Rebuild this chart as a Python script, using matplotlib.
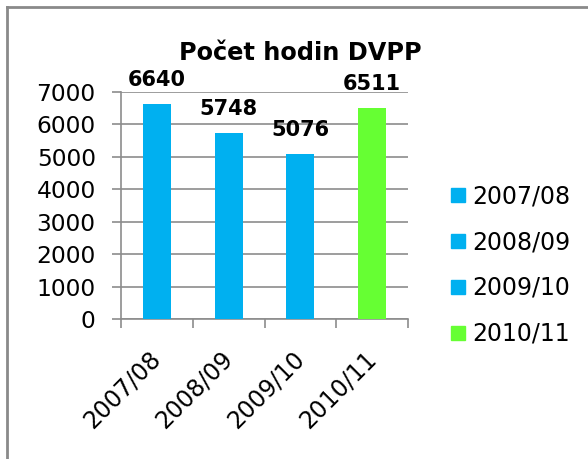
import matplotlib
matplotlib.use("Agg")
import matplotlib.pyplot as plt
from matplotlib.lines import Line2D
from matplotlib.transforms import ScaledTranslation

plt.rcParams['font.family'] = ['DejaVu Sans']

categories = ["2007/08", "2008/09", "2009/10", "2010/11"]
values = [6640, 5748, 5076, 6511]
colors = ["#00B0F0", "#00B0F0", "#00B0F0", "#66FF33"]
title = "Počet hodin DVPP"
yticks = [0, 1000, 2000, 3000, 4000, 5000, 6000, 7000]

W, H = 588, 459
fig = plt.figure(figsize=(W / 100, H / 100), dpi=100)
ax = fig.add_axes([121 / W, 1 - 319 / H, (408 - 121) / W, (319 - 92) / H])

x = list(range(len(categories)))
ax.bar(x, values, width=0.39, color=colors, zorder=3)
for xi, v in zip(x, values):
    ax.annotate(str(v), (xi, v), xytext=(0, 13), textcoords="offset points",
                ha="center", va="baseline", fontsize=15, fontweight="bold")

gray = "#8c8c8c"
ax.set_xlim(-0.5, len(categories) - 0.5)
ax.set_ylim(0, 7000)
ax.set_yticks(yticks)
ax.set_yticklabels([str(t) for t in yticks], fontsize=16.8)
ax.set_xticks(x)
ax.set_xticklabels(categories, rotation=45, ha="right", va="center",
                   rotation_mode="anchor", fontsize=17)
off = ScaledTranslation(2 / 100, 0, fig.dpi_scale_trans)
for lab in ax.get_xticklabels():
    lab.set_transform(lab.get_transform() + off)
ax.set_xticks([i - 0.5 for i in range(len(categories) + 1)], minor=True)
ax.tick_params(axis="x", which="major", length=0, pad=26)
ax.tick_params(axis="x", which="minor", length=6.5, color=gray, width=1.2)
ax.tick_params(axis="y", length=6.5, color=gray, width=1.2, pad=11.7)
ax.yaxis.grid(True, color=gray, linewidth=1.2, zorder=0)
for s in ["top", "right"]:
    ax.spines[s].set_visible(False)
for s in ["left", "bottom"]:
    ax.spines[s].set_color(gray)
    ax.spines[s].set_linewidth(1.2)

fig.text(179 / W, 1 - 60 / H, title, ha="left", va="baseline",
         fontsize=17.3, fontweight="bold")

handles = [Line2D([], [], marker="s", linestyle="none", markersize=9.5,
                  markerfacecolor=c, markeredgecolor=c) for c in colors]
fig.legend(handles, categories, loc="center left",
           bbox_to_anchor=(447.5 / W, 1 - 265 / H), frameon=False,
           fontsize=17, handlelength=0.85, handletextpad=0.19, labelspacing=0.93,
           borderpad=0, borderaxespad=0)

# chart area border (cropped)
fig.add_artist(Line2D([7 / W, 7 / W], [0, 1 - 7 / H], transform=fig.transFigure,
                      color="#8a8a8a", linewidth=2))
fig.add_artist(Line2D([7 / W, 1], [1 - 7 / H, 1 - 7 / H], transform=fig.transFigure,
                      color="#8a8a8a", linewidth=2))

fig.savefig("out.png", dpi=100)
